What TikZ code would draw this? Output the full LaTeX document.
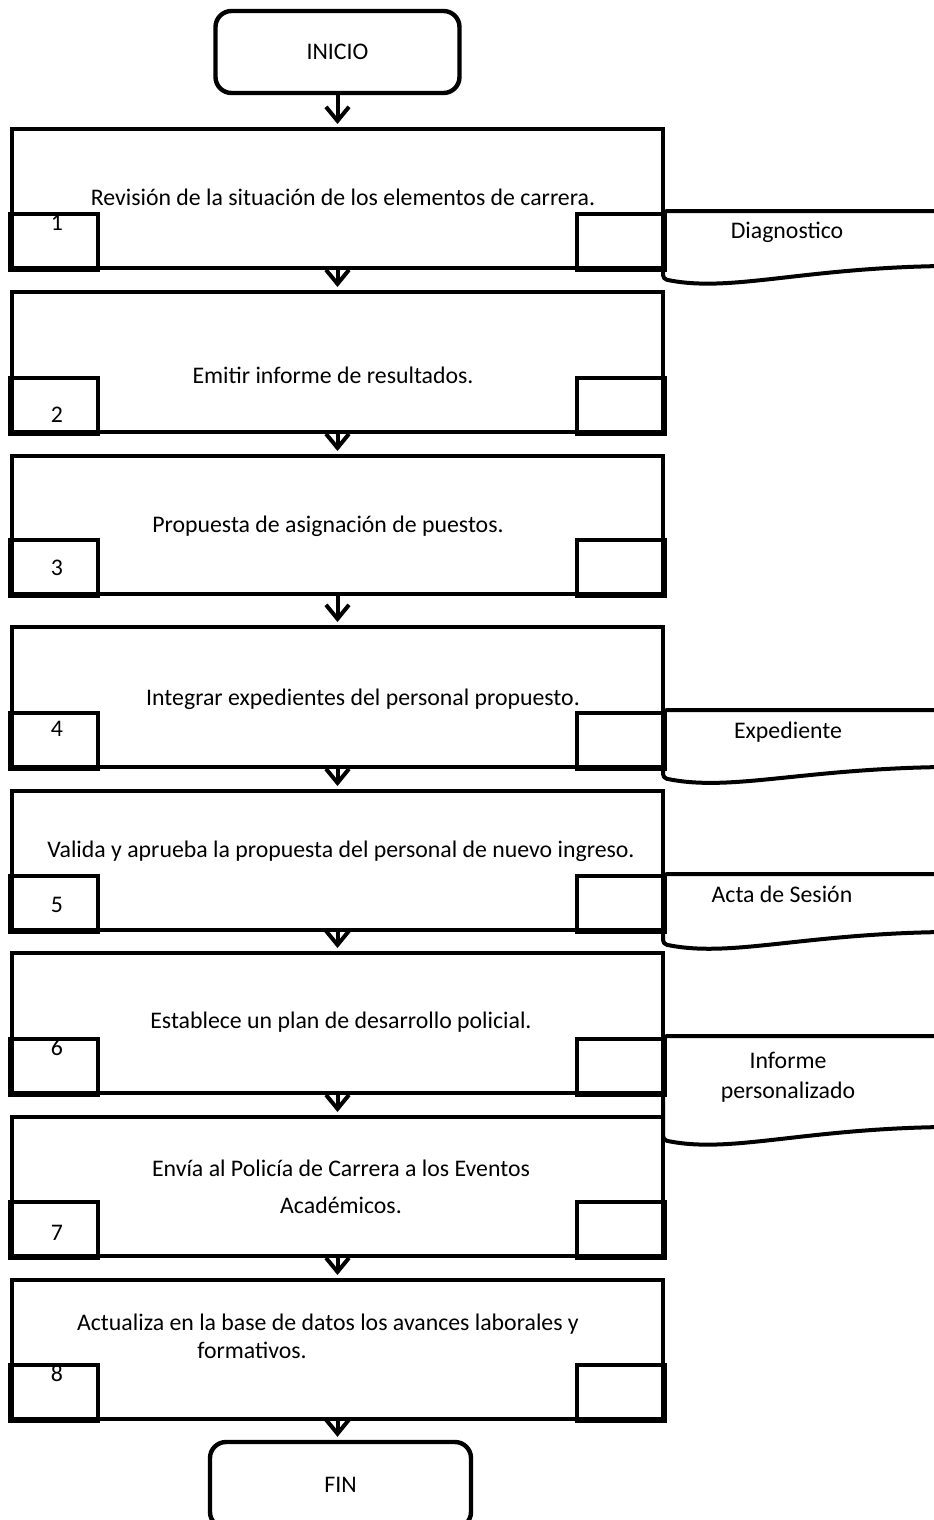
\documentclass[tikz,border=0pt]{standalone}
\usepackage{fontspec}
\setmainfont{Carlito}
\usetikzlibrary{arrows.meta}
\begin{document}
\begin{tikzpicture}[x=0.5pt,y=-0.5pt,
  every node/.style={font=\fontsize{11.9}{14}\selectfont},
  procbox/.style={draw, line width=2pt, minimum width=325.5pt, inner sep=0pt},
  smallbox/.style={draw, line width=2pt},
  term/.style={draw, line width=2.2pt, rounded corners=8pt, inner sep=0pt},
  lbl/.style={inner sep=0pt, text height=1.5ex, text depth=0.25ex},
  flow/.style={line width=2pt, shorten >=1.5pt, -{Straight Barb[length=7pt,width=11.5pt]}},
  doc/.style={line width=2pt, line join=round, rounded corners=2pt}
]
\useasboundingbox (0,0) rectangle (933,1520);

% terminals
\node[term, minimum width=122pt, minimum height=41pt] (inicio) at (337.5,52) {INICIO};
\node[term, minimum width=130.5pt, minimum height=43pt] (fin) at (340.5,1485) {FIN};

% process boxes
\node[procbox, minimum height=69.5pt] (b1) at (337.5,198.5) {};
\node[procbox, minimum height=70pt]   (b2) at (337.5,362) {};
\node[procbox, minimum height=69pt]   (b3) at (337.5,525) {};
\node[procbox, minimum height=70pt]   (b4) at (337.5,697) {};
\node[procbox, minimum height=69.5pt] (b5) at (337.5,860.5) {};
\node[procbox, minimum height=70pt]   (b6) at (337.5,1023) {};
\node[procbox, minimum height=69.5pt] (b7) at (337.5,1186.5) {};
\node[procbox, minimum height=69.5pt] (b8) at (337.5,1349.5) {};

% corner boxes
\foreach \b in {b1,b2,b3,b4,b5,b6,b7,b8}{
  \draw[smallbox] (\b.south west) rectangle ++(88,-56);
  \draw[smallbox] (\b.south east) rectangle ++(-88,-56);
}

% texts
\node[lbl] (t1) at (343,200) {Revisión de la situación de los elementos de carrera.};
\node[lbl] (t2) at (333,378) {Emitir informe de resultados.};
\node[lbl] (t3) at (328,527) {Propuesta de asignación de puestos.};
\node[lbl] (t4) at (363,700) {Integrar expedientes del personal propuesto.};
\node[lbl] (t5) at (341,852) {Valida y aprueba la propuesta del personal de nuevo ingreso.};
\node[lbl] (t6) at (341,1023) {Establece un plan de desarrollo policial.};
\node[lbl] (t7a) at (341,1171) {Envía al Policía de Carrera a los Eventos};
\node[lbl] (t7b) at (341,1208) {Académicos.};
\node[lbl] (t8a) at (328,1325) {Actualiza en la base de datos los avances laborales y};
\node[lbl] (t8b) at (252,1353) {formativos.};

% numbers
\node[lbl] (n1) at (57,225) {1};
\node[lbl] (n2) at (57,417) {2};
\node[lbl] (n3) at (57,570) {3};
\node[lbl] (n4) at (57,731) {4};
\node[lbl] (n5) at (57,907) {5};
\node[lbl] (n6) at (57,1050) {6};
\node[lbl] (n7) at (57,1235) {7};
\node[lbl] (n8) at (57,1376) {8};

% documents
\draw[doc] (943,211) -- (663,211) -- (663,279) .. controls +(67,14) and +(-143,2) .. (943,266);
\draw[doc] (943,710) -- (663,710) -- (663,778) .. controls +(67,14) and +(-143,2) .. (943,767);
\draw[doc] (943,874) -- (663,874) -- (663,944) .. controls +(67,14) and +(-143,2) .. (943,932);
\draw[doc] (943,1036) -- (663,1036) -- (663,1140) .. controls +(67,14) and +(-143,2) .. (943,1127);
\node[lbl] (d1) at (787,233) {Diagnostico};
\node[lbl] (d2) at (788,733) {Expediente};
\node[lbl] (d3) at (782,897) {Acta de Sesión};
\node[inner sep=0pt, align=center, font=\fontsize{11.9}{15}\selectfont] (d4) at (788,1077) {Informe\\personalizado};

% connectors
\draw[flow] (inicio.south) -- (b1.north);
\draw[flow] (b1.south) -- (b2.north);
\draw[flow] (b2.south) -- (b3.north);
\draw[flow] (b3.south) -- (b4.north);
\draw[flow] (b4.south) -- (b5.north);
\draw[flow] (b5.south) -- (b6.north);
\draw[flow] (b6.south) -- (b7.north);
\draw[flow] (b7.south) -- (b8.north);
\draw[flow] (b8.south) -- (b8.south |- fin.north);
\end{tikzpicture}
\end{document}
